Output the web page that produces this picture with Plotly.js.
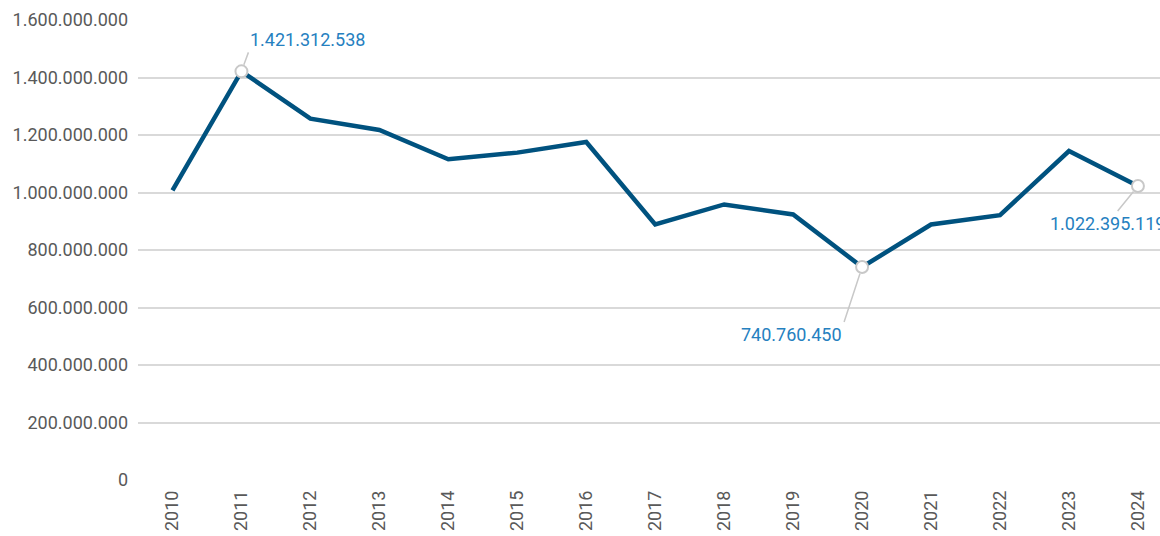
<!DOCTYPE html>
<html>
<head>
<meta charset="utf-8">
<script src="https://cdn.plot.ly/plotly-3.0.1.min.js"></script>
<style>html,body{margin:0;padding:0;background:#fff;}#chart{width:1160px;height:536px;}</style>
</head>
<body>
<div id="chart"></div>
<script>
const years = ["2010","2011","2012","2013","2014","2015","2016","2017","2018","2019","2020","2021","2022","2023","2024"];
const values = [1007000000, 1421312538, 1257000000, 1217500000, 1115400000, 1138700000, 1175700000, 888800000, 958500000, 923700000, 740760450, 888800000, 921200000, 1144300000, 1022395119];
const highlightYears = ["2011","2020","2024"];
const yTicks = [0, 200000000, 400000000, 600000000, 800000000, 1000000000, 1200000000, 1400000000, 1600000000];

function fmt(v){ return Math.round(v).toString().replace(/\B(?=(\d{3})+(?!\d))/g, "."); }

const hlIdx = highlightYears.map(y => years.indexOf(y));
const hlValues = hlIdx.map(i => values[i]);

const annStyle = {
  showarrow: true, arrowhead: 0, arrowwidth: 1.5, arrowcolor: "#c8c8c8",
  font: {family: "Roboto, sans-serif", size: 18, color: "#2580bf"},
  standoff: 7, xref: "x", yref: "y", axref: "pixel", ayref: "pixel"
};

const annotations = [
  Object.assign({}, annStyle, {x: hlIdx[0], y: hlValues[0], text: fmt(hlValues[0]), xanchor: "left", yanchor: "bottom", ax: 7, ay: -19}),
  Object.assign({}, annStyle, {x: hlIdx[1], y: hlValues[1], text: fmt(hlValues[1]), xanchor: "right", yanchor: "top", ax: -18, ay: 55}),
  Object.assign({}, annStyle, {x: hlIdx[2], y: hlValues[2], text: fmt(hlValues[2]), ax: -30, ay: 37})
];

const traces = [
  {x: years, y: values, type: "scatter", mode: "lines", line: {color: "#00527f", width: 4.5}, hoverinfo: "skip", cliponaxis: false},
  {x: highlightYears, y: hlValues, type: "scatter", mode: "markers",
   marker: {size: 12, color: "#ffffff", line: {color: "#c8c8c8", width: 2}}, hoverinfo: "skip", cliponaxis: false}
];

const layout = {
  width: 1160, height: 536,
  margin: {l: 138, r: 0, t: 20, b: 56},
  paper_bgcolor: "#ffffff", plot_bgcolor: "#ffffff",
  showlegend: false,
  font: {family: "Roboto, sans-serif", size: 18, color: "#595959"},
  xaxis: {
    type: "category", range: [-0.5, 14.32], showgrid: false, zeroline: false, showline: false,
    tickangle: -90, ticks: "", ticklabelstandoff: 6,
    tickfont: {family: "Roboto, sans-serif", size: 18, color: "#595959"}
  },
  yaxis: {
    range: [0, 1600000000], tickvals: yTicks, ticktext: yTicks.map(fmt),
    showgrid: true, gridcolor: "#d9d9d9", gridwidth: 2, zeroline: false, showline: false,
    ticks: "", ticklabelstandoff: 9,
    tickfont: {family: "Roboto, sans-serif", size: 18, color: "#595959"}
  },
  annotations: annotations
};

Plotly.newPlot("chart", traces, layout, {displayModeBar: false, staticPlot: true});
</script>
</body>
</html>
